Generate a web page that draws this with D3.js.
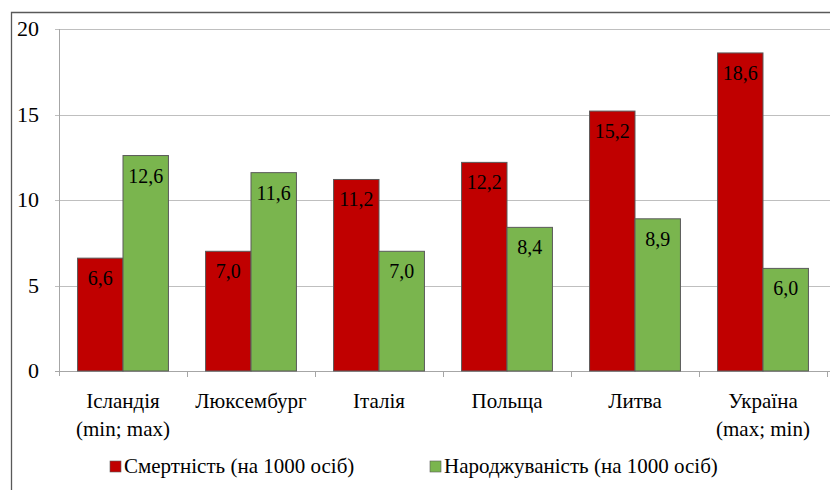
<!DOCTYPE html>
<html>
<head>
<meta charset="utf-8">
<script src="https://cdn.jsdelivr.net/npm/d3@7"></script>
<style>
  body { margin: 0; background: #fff; }
  #chart text, #chart tspan { font-family: "Liberation Serif", "Times New Roman", serif !important; }
</style>
</head>
<body>
<svg id="chart" width="830" height="490"></svg>
<script>
const countries = [
  ["Ісландія", "(min; max)"],
  ["Люксембург"],
  ["Італія"],
  ["Польща"],
  ["Литва"],
  ["Україна", "(max; min)"]
]
const deaths = [6.6, 7.0, 11.2, 12.2, 15.2, 18.6]
const births = [12.6, 11.6, 7.0, 8.4, 8.9, 6.0]
const seriesNames = ["Смертність (на 1000 осіб)", "Народжуваність (на 1000 осіб)"]
const seriesColors = ["#c00000", "#7ab54e"]
const yTicks = [0, 5, 10, 15, 20]

const serif = "Liberation Serif, serif"
const svg = d3.select("#chart")
const plot = { left: 59, right: 827, top: 29, bottom: 371 }

const addText = sel => sel
  .attr("font-family", serif)
  .style("font-family", serif, "important")

// frame
svg.append("path")
  .attr("d", "M11.5,496V12.5H836")
  .attr("fill", "none")
  .attr("stroke", "#595959")
  .attr("stroke-width", 1.3)

const x0 = d3.scaleBand()
  .domain(d3.range(countries.length))
  .range([plot.left, plot.right])
  .paddingInner(0.29)
  .paddingOuter(0.145)

const x1 = d3.scaleBand()
  .domain([0, 1])
  .range([0, x0.bandwidth()])

const y = d3.scaleLinear()
  .domain([0, 20])
  .range([plot.bottom, plot.top])

// gridlines
svg.append("g")
  .selectAll("line")
  .data(yTicks)
  .join("line")
  .attr("x1", plot.left - 4)
  .attr("x2", plot.right + 4)
  .attr("y1", d => Math.round(y(d)) + 0.5)
  .attr("y2", d => Math.round(y(d)) + 0.5)
  .attr("stroke", d => d === 0 ? "#a6a6a6" : "#bfbfbf")
  .attr("stroke-width", 1)

// y labels
svg.append("g")
  .selectAll("text")
  .data(yTicks)
  .join("text")
  .call(addText)
  .attr("x", 39)
  .attr("y", d => y(d) + 7)
  .attr("text-anchor", "end")
  .attr("font-size", 22)
  .text(d => d)

// vertical axis line
svg.append("line")
  .attr("x1", plot.left + 0.5).attr("x2", plot.left + 0.5)
  .attr("y1", plot.top).attr("y2", plot.bottom + 5)
  .attr("stroke", "#a6a6a6")

// category ticks
const step = (plot.right - plot.left) / countries.length
svg.append("g")
  .selectAll("line")
  .data(d3.range(1, countries.length + 1))
  .join("line")
  .attr("x1", d => Math.round(plot.left + d * step) + 0.5)
  .attr("x2", d => Math.round(plot.left + d * step) + 0.5)
  .attr("y1", plot.bottom)
  .attr("y2", plot.bottom + 6)
  .attr("stroke", "#a6a6a6")

const rows = deaths.map((d, i) => [d, births[i]])

const groups = svg.append("g")
  .selectAll("g")
  .data(rows)
  .join("g")
  .attr("transform", (d, i) => `translate(${x0(i)},0)`)

groups.selectAll("rect")
  .data(d => d)
  .join("rect")
  .attr("x", (d, j) => x1(j))
  .attr("y", d => y(d))
  .attr("width", x1.bandwidth())
  .attr("height", d => y(0) - y(d))
  .attr("fill", (d, j) => seriesColors[j])
  .attr("stroke", "#5a5a5a")
  .attr("stroke-width", 1)

groups.selectAll("text")
  .data(d => d)
  .join("text")
  .call(addText)
  .attr("x", (d, j) => x1(j) + x1.bandwidth() / 2)
  .attr("y", d => y(d) + 27)
  .attr("text-anchor", "middle")
  .attr("font-size", 20)
  .text(d => d.toFixed(1).replace(".", ","))

// category labels
svg.append("g")
  .selectAll("text")
  .data(countries)
  .join("text")
  .call(addText)
  .attr("x", (d, i) => x0(i) + x0.bandwidth() / 2)
  .attr("y", 408)
  .attr("text-anchor", "middle")
  .attr("font-size", 21)
  .selectAll("tspan")
  .data(d => d)
  .join("tspan")
  .attr("x", function () { return d3.select(this.parentNode).attr("x") })
  .attr("dy", (d, k) => k === 0 ? 0 : 28)
  .text(d => d)

// legend
const legendX = [110, 430]
const legend = svg.append("g")
  .selectAll("g")
  .data(seriesNames)
  .join("g")
  .attr("transform", (d, i) => `translate(${legendX[i]},461)`)

legend.append("rect")
  .attr("width", 11).attr("height", 11)
  .attr("fill", (d, i) => seriesColors[i])
  .attr("stroke", "#5a5a5a")
  .attr("stroke-width", 0.6)

legend.append("text")
  .call(addText)
  .attr("x", 14)
  .attr("y", 12)
  .attr("font-size", 21)
  .text(d => d)
</script>
</body>
</html>
